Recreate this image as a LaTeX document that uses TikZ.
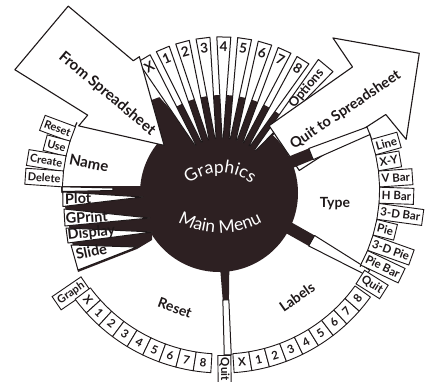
\documentclass[tikz,border=0pt]{standalone}
\usepackage{fontspec}
\setmainfont{Lato}
\usetikzlibrary{decorations.text}
\definecolor{dk}{RGB}{45,32,34}
\definecolor{ln}{RGB}{30,24,25}
\begin{document}
\begin{tikzpicture}[x=1pt,y=1pt,
  ol/.style={draw=ln,line width=1pt,fill=white,line join=round},
  bx/.style={draw=ln,line width=0.9pt,fill=white,inner xsep=2.5pt,inner ysep=0pt,minimum height=16pt,font=\bfseries\fontsize{11.5}{11.5}\selectfont,text=ln},
  rl/.style={font=\bfseries\fontsize{11.5}{11.5}\selectfont,text=ln,inner sep=0pt},
  big/.style={font=\bfseries\fontsize{14}{14}\selectfont,text=ln,inner sep=0pt},
  sp/.style={font=\bfseries\fontsize{13.5}{13.5}\selectfont,text=ln,inner sep=0pt},
]
\useasboundingbox (-222,-191) rectangle (208,190);
\fill[white] (-222,-191) rectangle (208,190);

% ---------- dark core ----------
\fill[dk] (-3,-3) circle[radius=79pt];
\fill[dk] (0,0) -- (47:95pt) arc[start angle=47,end angle=125,radius=95pt] -- cycle;
\fill[dk] (142:70pt) -- (133:118pt) -- (124:112pt) -- (120:75pt) -- cycle;
\fill[dk] (-161,4) -- (-70,4) -- (-70,-50) -- (-85,-59) -- (-144,-82) -- cycle;

% ---------- top spokes ----------
\foreach \lab [count=\k from 0] in {X,1,2,3,4,5,6,7,8} {
  \pgfmathsetmacro\ang{120.6-7.82*\k}
  \begin{scope}[rotate=\ang]
    \draw[ol] (52,-0.6) -- (153,-7) -- (153,7) -- (52,0.6) -- cycle;
    \node[sp,rotate=\ang-90] (top\k) at (143,0) {\lab};
  \end{scope}
}
\begin{scope}[rotate=50.2]
  \draw[ol] (52,-0.8) -- (162,-9.5) -- (162,9.5) -- (52,0.8) -- cycle;
  \node[sp,font=\bfseries\fontsize{13}{13}\selectfont,rotate=50.2] (opt) at (132,0) {Options};
\end{scope}

% ---------- From Spreadsheet arrow ----------
\begin{scope}[rotate=140]
  \draw[ol,line width=1.1pt] (236,-42) -- (151,-42) -- (149,-49) -- (73,3) -- (151,43) -- (151,29) -- (236,41) -- cycle;
  \node[big,font=\bfseries\fontsize{15}{15}\selectfont,rotate=-40] (from) at (150,0) {From Spreadsheet};
\end{scope}

% ---------- Quit to Spreadsheet arrow ----------
\begin{scope}[rotate=34]
  \draw[ol,line width=1.1pt] (75,-27) -- (178,-29) -- (181,-61) -- (240,3) -- (177,64) -- (177,29) -- (75,27) -- cycle;
  \node[big,font=\bfseries\fontsize{14.5}{14.5}\selectfont,rotate=34] (quitarr) at (147,-3) {Quit to Spreadsheet};
\end{scope}

% ---------- separator strips ----------
\begin{scope}[rotate=22]
  \fill[dk] (70,-6) -- (97,-6) -- (97,6) -- (70,6) -- cycle;
  \draw[ol] (96,-6) -- (158,-4) -- (158,4) -- (96,6) -- cycle;
\end{scope}
\begin{scope}[rotate=-29.5]
  \fill[dk] (70,-6) -- (104,-6) -- (104,6) -- (70,6) -- cycle;
  \draw[ol] (103,-6) -- (168,-3) -- (168,3) -- (103,6) -- cycle;
\end{scope}
\begin{scope}[rotate=-88]
  \fill[dk] (70,-5) -- (112,-3) -- (112,3) -- (70,5) -- cycle;
  \draw[ol] (110,-3) -- (165,-3.5) -- (165,3.5) -- (110,3) -- cycle;
\end{scope}
% Name / Plot strip
\draw[ol] (-160,3.2) -- (-109,2) -- (-109,-0.5) -- (-160,-1.5) -- cycle;

% ---------- left bands ----------
\draw[ol] (-159,-2) -- (-79,-7) -- (-159,-16.5) -- cycle;
\draw[ol] (-158,-19) -- (-72,-28) -- (-157,-36) -- cycle;
\draw[ol] (-156,-38) -- (-69,-42) -- (-154,-53) -- cycle;
\draw[ol] (-151,-55) -- (-85,-57) -- (-144,-80) -- cycle;
\node[big,font=\bfseries\fontsize{14.5}{14.5}\selectfont,anchor=base west,rotate=1] (plot) at (-157,-14) {Plot};
\node[big,font=\bfseries\fontsize{14.5}{14.5}\selectfont,anchor=base west,rotate=4] (gprint) at (-156,-34) {GPrint};
\node[big,font=\bfseries\fontsize{14.5}{14.5}\selectfont,anchor=base west,rotate=6] (disp) at (-154,-50) {Display};
\node[big,font=\bfseries\fontsize{14.5}{14.5}\selectfont,anchor=base west,rotate=12] (slide) at (-145,-70) {Slide};

% ---------- arcs ----------
\draw[ln,line width=1.2pt] (155:160pt) arc[start angle=155,end angle=181,radius=160pt];
\draw[ln,line width=1.2pt] (-29:158pt) arc[start angle=-29,end angle=21,radius=158pt];

% ---------- Name boxes ----------
\foreach \lab/\ang [count=\k] in {Reset/159.5,Use/165,Create/170.5,Delete/176} {
  \node[bx,font=\bfseries\fontsize{11}{11}\selectfont,rotate=\ang-180,anchor=east] (nm\k) at (\ang:159pt) {\lab};
}
% ---------- Type boxes ----------
\foreach \lab [count=\k from 0] in {Line,X-Y,V Bar,H Bar,3-D Bar,Pie,3-D Pie,Pie Bar} {
  \pgfmathsetmacro\ang{15.8-5.9*\k}
  \node[bx,rotate=\ang,anchor=west] (ty\k) at (\ang:157pt) {\lab};
}

% ---------- rings ----------
\node[bx,font=\bfseries\fontsize{11}{11}\selectfont,rotate=34.4,anchor=east] (graph) at (214.4:165pt) {Graph};
\foreach \lab [count=\k from 0] in {X,1,2,3,4,5,6,7,8} {
  \pgfmathsetmacro\ang{219.4+5.54*\k}
  \pgfmathsetmacro\aa{\ang-2.77}
  \pgfmathsetmacro\ab{\ang+2.77}
  \draw[ol,line width=0.9pt] (\aa:164pt) arc[start angle=\aa,end angle=\ab,radius=164pt] -- (\ab:183pt) arc[start angle=\ab,end angle=\aa,radius=183pt] -- cycle;
  \node[rl,rotate=\ang+90] (rs\k) at (\ang:173.5pt) {\lab};
}
\foreach \lab [count=\k from 0] in {X,1,2,3,4,5,6,7,8} {
  \pgfmathsetmacro\ang{-83.4+5.6*\k}
  \pgfmathsetmacro\aa{\ang-2.8}
  \pgfmathsetmacro\ab{\ang+2.8}
  \draw[ol,line width=0.9pt] (\aa:164pt) arc[start angle=\aa,end angle=\ab,radius=164pt] -- (\ab:183pt) arc[start angle=\ab,end angle=\aa,radius=183pt] -- cycle;
  \node[rl,rotate=\ang+90] (lb\k) at (\ang:173.5pt) {\lab};
}
\node[bx,rotate=-32.2,anchor=west] (lquit) at (-32.2:163pt) {Quit};
\node[bx,rotate=-89.2,anchor=west,minimum height=13pt] (bquit) at (-89.2:165pt) {Quit};

% ---------- sector titles ----------
\node[big,font=\bfseries\fontsize{15}{15}\selectfont,rotate=-11] (name) at (-133,27) {Name};
\node[big] (type) at (113,-14) {Type};
\node[big,rotate=35] (labels) at (75,-107) {Labels};
\node[big,rotate=-20] (reset) at (-47,-118) {Reset};

% ---------- centre text ----------
\path[decorate,decoration={text along path,text align=center,
  text={|\color{white}\fontsize{17.5}{17.5}\selectfont|Graphics}}]
  (-38.06,2.06) arc[start angle=135,end angle=45,radius=51pt];
\path[decorate,decoration={text along path,text align=center,
  text={|\color{white}\fontsize{17.5}{17.5}\selectfont|Main Menu}}]
  (-54.95,-24.77) arc[start angle=232,end angle=308,radius=86pt];
\end{tikzpicture}
\end{document}
